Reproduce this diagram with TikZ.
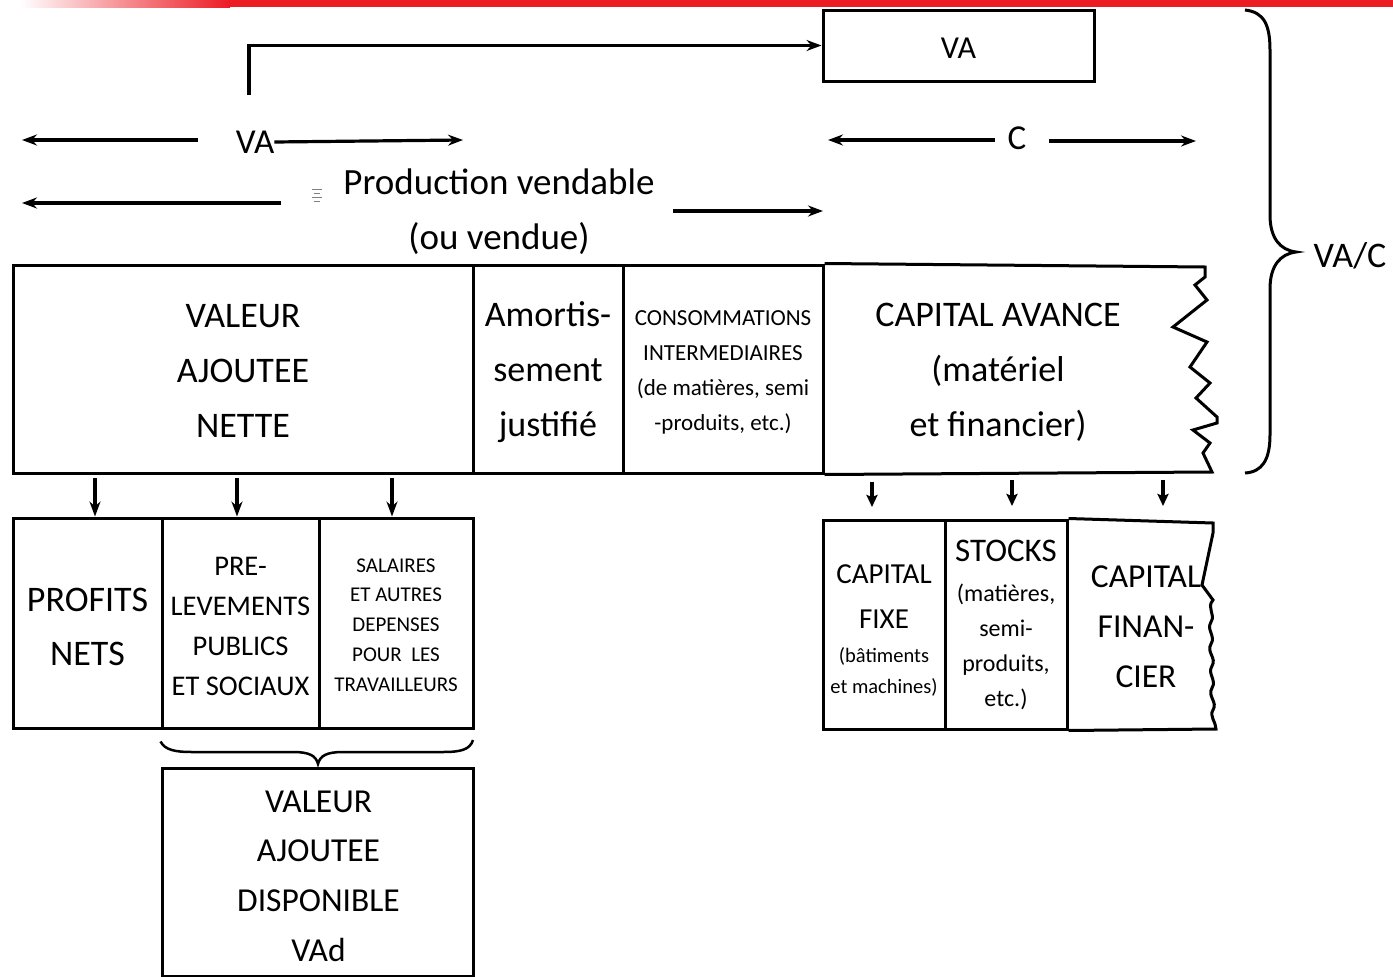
\documentclass[tikz,border=0pt]{standalone}
\usepackage{fontspec}
\setmainfont{Carlito}
\usetikzlibrary{arrows.meta}
\definecolor{barred}{RGB}{236,28,36}
\newcommand\fsz[2]{\fontsize{#1}{#2}\selectfont}
\begin{document}
\begin{tikzpicture}[x=1pt,y=-1pt,
  box/.style={draw,line width=3pt,inner sep=0pt},
  txt/.style={inner sep=0pt,align=center},
  arr/.style={line width=3.2pt,-{Stealth[length=15pt,width=11pt,inset=5pt]}},
  darr/.style={line width=3.2pt,-{Stealth[length=12pt,width=11pt,inset=2pt]}}]
\useasboundingbox (0,0) rectangle (1393,977);
% red strip
\shade[left color=white,right color=barred] (20,0) rectangle (230,7);
\fill[barred] (229,0) rectangle (1393,7);
% top VA box
\node[box,minimum width=271,minimum height=71] (va) at (958.5,45.5) {};
\node[txt,font=\fsz{32}{38}] (vat) at (958.5,48.5) {VA};
\coordinate (elb) at (249,95);
\draw[arr,line join=miter] (elb) |- (va.west);
% VA row
\node[txt,font=\fsz{35}{40}] (vatxt) at (255,142) {VA};
\coordinate (vaL) at (198,140); \coordinate (vaLend) at (22,140);
\coordinate (vaRend) at (463,140);
\draw[arr] (vaL) -- (vaLend);
\draw[arr] (vatxt.east) -- (vaRend);
% C row
\node[txt,font=\fsz{35}{40}] (ctxt) at (1017,138) {C};
\coordinate (cL) at (995,140); \coordinate (cLend) at (828,140);
\coordinate (cR) at (1049,141); \coordinate (cRend) at (1196,141);
\draw[arr] (cL) -- (cLend);
\draw[arr] (cR) -- (cRend);
% production vendable
\node[txt,font=\fsz{37}{55}] (prod) at (499,212) {Production vendable\\(ou vendue)};
\coordinate (pL) at (281,203); \coordinate (pLend) at (22,203);
\coordinate (pR) at (673,211); \coordinate (pRend) at (823,211);
\draw[arr] (pL) -- (pLend);
\draw[arr] (pR) -- (pRend);
% small icon
\draw[gray,line width=0.8pt] (312,189) -- (322,189) (314,193) -- (320,193) (312,197) -- (322,197) (314,201) -- (320,201);
% main row
\node[box,minimum width=460,minimum height=208] (van) at (243,369) {};
\node[box,minimum width=150,minimum height=208] (amo) at (548,369) {};
\node[box,minimum width=200,minimum height=208] (ci) at (723,369) {};
\node[txt,font=\fsz{36}{55}] (vant) at (243,371) {VALEUR\\AJOUTEE\\NETTE};
\node[txt,font=\fsz{36}{55}] (amot) at (548,372) {Amortis-\\sement\\justifié};
\node[txt,font=\fsz{23}{35}] (cit) at (723,372) {CONSOMMATIONS\\INTERMEDIAIRES\\(de matières, semi\\-produits, etc.)};
\draw[line width=3pt,line join=miter] (ci.north east) -- (1205,267) -- (1205,277) -- (1195,285) -- (1207,300) -- (1173,327) -- (1207,342) -- (1190,367) -- (1210,383) -- (1196,398) -- (1217,417) -- (1217,423) -- (1193,430) -- (1210,443) -- (1203,453) -- (1212,472) -- (ci.south east);
\node[txt,font=\fsz{36}{55}] (cav) at (998,372) {CAPITAL AVANCE\\(matériel\\et financier)};
% right brace
\draw[line width=3pt] (1245,10) .. controls (1264,12) and (1270,25) .. (1270,50) -- (1270,215) .. controls (1270,238) and (1280,250) .. (1296,252) .. controls (1280,254) and (1270,266) .. (1270,289) -- (1270,435) .. controls (1270,460) and (1262,472) .. (1245,473);
\node[txt,font=\fsz{36}{40}] (vac) at (1350,256) {VA/C};
% bottom left row
\node[box,minimum width=149,minimum height=210] (pn) at (87.5,623) {};
\node[box,minimum width=157,minimum height=210] (pl) at (240.5,623) {};
\node[box,minimum width=154,minimum height=210] (sal) at (396,623) {};
\node[txt,font=\fsz{36}{54}] (pnt) at (87.5,627) {PROFITS\\NETS};
\node[txt,font=\fsz{28.5}{40}] (plt) at (240.5,626) {PRE-\\LEVEMENTS\\PUBLICS\\ET SOCIAUX};
\node[txt,font=\fsz{21}{29.8}] (salt) at (396,625) {SALAIRES\\ET AUTRES\\DEPENSES\\POUR\ \ LES\\TRAVAILLEURS};
\coordinate (a1) at (95,478); \coordinate (a2) at (237,478); \coordinate (a3) at (392,478);
\draw[arr] (a1) -- (a1 |- pn.north);
\draw[arr] (a2) -- (a2 |- pl.north);
\draw[arr] (a3) -- (a3 |- sal.north);
% bottom brace
\draw[line width=2.5pt] (pl.south west) ++(0,12) .. controls (165,750) and (175,752) .. (192,752) -- (293,752) .. controls (310,752) and (316,756) .. (318,764) .. controls (320,756) and (326,752) .. (343,752) -- (443,752) .. controls (460,752) and (470,750) .. (473,740);
% VAd box
\node[box,minimum width=311,minimum height=208] (vad) at (317.5,872) {};
\node[txt,font=\fsz{33.5}{49.7}] (vadt) at (318.5,876) {VALEUR\\AJOUTEE\\DISPONIBLE\\VAd};
% bottom right row
\node[box,minimum width=122,minimum height=209] (cf) at (884,624.5) {};
\node[box,minimum width=122,minimum height=209] (st) at (1006,624.5) {};
\node[txt,font=\fsz{29}{45}] (cft) at (884,597) {CAPITAL\\FIXE};
\node[txt,font=\fsz{20.5}{31}] (cfs) at (884,672) {(bâtiments\\et machines)};
\node[txt,font=\fsz{33}{40}] (stt) at (1006,551) {STOCKS};
\node[txt,font=\fsz{24}{35}] (sts) at (1006,647) {(matières,\\semi-\\produits,\\etc.)};
\draw[line width=3pt,line join=miter] (st.north east) -- (1213,523) -- (1213,533) -- (1202,585) -- (1213,600)
  .. controls (1206,608) and (1216,614) .. (1211,622)
  .. controls (1206,630) and (1216,636) .. (1211,644)
  .. controls (1206,652) and (1217,658) .. (1212,666)
  .. controls (1207,674) and (1217,680) .. (1212,688)
  .. controls (1207,696) and (1218,702) .. (1213,710)
  .. controls (1209,716) and (1216,722) .. (1216,729) -- (st.south east);
\node[txt,font=\fsz{33.5}{50}] (cfin) at (1146,627) {CAPITAL\\FINAN-\\CIER};
\coordinate (b1) at (872,482); \coordinate (b2) at (1012,480); \coordinate (b3) at (1163,480);
\draw[darr] (b1) -- ++(0,25);
\draw[darr] (b2) -- ++(0,26);
\draw[darr] (b3) -- ++(0,26);
\end{tikzpicture}
\end{document}
